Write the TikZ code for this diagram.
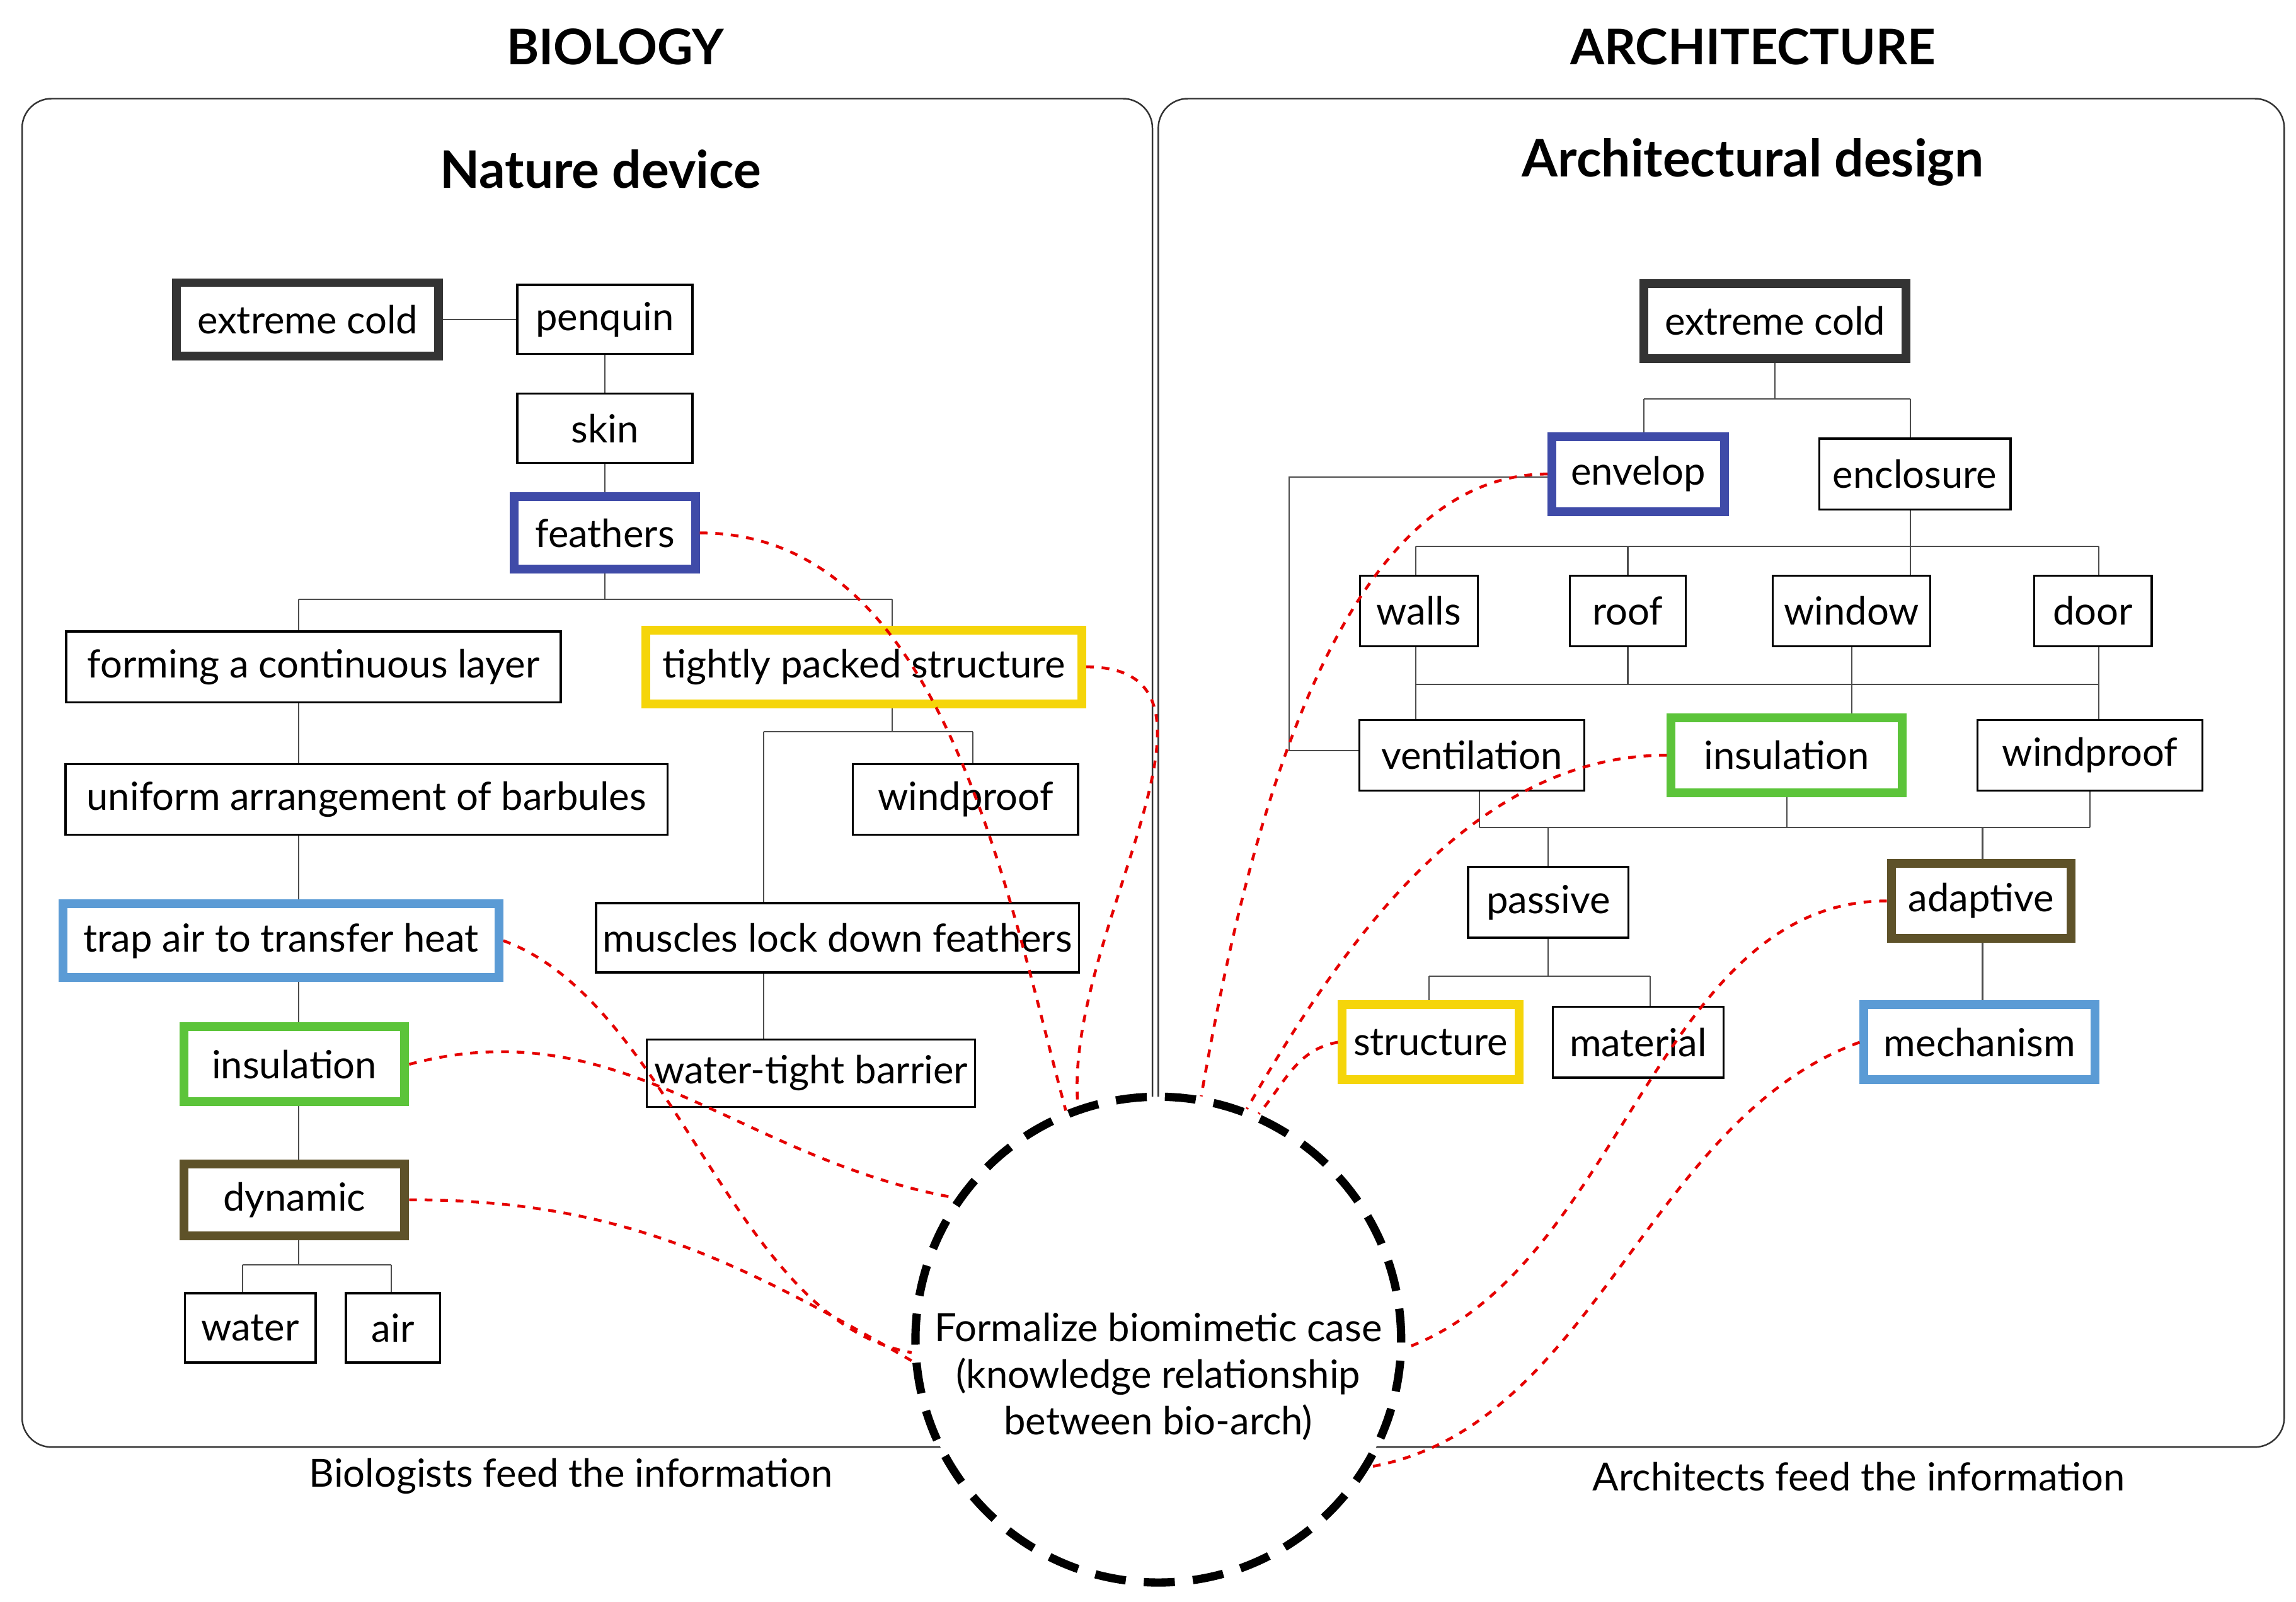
\documentclass[tikz,border=0pt]{standalone}
\usepackage{fontspec}
\setmainfont{Lato}
\begin{document}
\definecolor{cdark}{HTML}{333333}
\definecolor{cblue}{HTML}{3F4BA8}
\definecolor{cyel}{HTML}{F5D50A}
\definecolor{clb}{HTML}{5B9BD5}
\definecolor{cgr}{HTML}{5CC43A}
\definecolor{col}{HTML}{5E5229}
\begin{tikzpicture}[x=0.02cm,y=-0.02cm,
  box/.style={draw,fill=white,line width=0.8pt,inner sep=2pt,font=\fontsize{15}{18}\selectfont},
  thk/.style={line width=3.4pt,draw=#1},
  ln/.style={draw=black!70,line width=0.5pt},
  rl/.style={draw=red!90!black,dashed,line width=1.1pt},
  panel/.style={draw=black!80,line width=0.6pt,rounded corners=0.4cm},
  ttl/.style={font=\fontsize{19}{23}\selectfont\bfseries},
  sub/.style={font=\fontsize{20}{24}\selectfont\bfseries},
  lbl/.style={font=\fontsize{15}{18}\selectfont}]
\useasboundingbox (0,0) rectangle (1560,1088);
\newcommand\B[7]{\node[box,#6,minimum width=#4*0.02cm,minimum height=#5*0.02cm] (#1) at (#2,#3) {#7};}
% panels
\draw[panel] (15,67) rectangle (783,983);
\draw[panel] (787,67) rectangle (1552,983);
\node[ttl] (tb) at (418,32) {BIOLOGY};
\node[ttl] (ta) at (1191,32) {ARCHITECTURE};
\node[sub] (sb) at (408,115) {Nature device};
\node[sub] (sa) at (1191,110) {Architectural design};
\node[lbl] (lb) at (388,1003) {Biologists feed the information};
\node[lbl] (la) at (1263,1003) {Architects feed the information};
% connectors left
\draw[ln] (209,217) -- (411,217);
\draw[ln] (411,217) -- (411,362);
\draw[ln] (411,362) -- (411,407) (203,407) -- (606,407) (203,407) -- (203,815) (606,407) -- (606,497);
\draw[ln] (519,497) -- (661,497) (661,497) -- (661,543) (519,497) -- (519,729);
\draw[ln] (203,815) -- (203,859) (165,859) -- (266,859) (165,859) -- (165,902) (266,859) -- (266,902);
% connectors right
\draw[ln] (1206,218) -- (1206,271) (1117,271) -- (1298,271) (1117,271) -- (1117,322) (1298,271) -- (1298,371);
\draw[ln] (1113,324) -- (876,324) -- (876,510) -- (923,510);
\draw[ln] (962,371) -- (1426,371) (962,371) -- (962,513) (1106,371) -- (1106,465) (1298,371) -- (1298,415) (1426,371) -- (1426,513);
\draw[ln] (962,465) -- (1426,465) (1258,415) -- (1258,513);
\draw[ln] (1005,513) -- (1005,562) (1005,562) -- (1420,562) (1214,513) -- (1214,562) (1420,513) -- (1420,562);
\draw[ln] (1052,562) -- (1052,663) (971,663) -- (1121,663) (971,663) -- (971,708) (1121,663) -- (1121,708);
\draw[ln] (1347,562) -- (1347,708);
% left nodes
\B{lcold}{209}{217}{178}{50}{thk=cdark}{extreme cold}
\B{peng}{411}{217}{119}{47}{}{penquin}
\B{skin}{411}{291}{119}{47}{}{skin}
\B{feat}{411}{362}{123}{49}{thk=cblue}{feathers}
\B{form}{213}{453}{336}{48}{}{forming a continuous layer}
\B{tight}{587}{453}{296}{50}{thk=cyel}{tightly packed structure}
\B{unif}{249}{543}{409}{48}{}{uniform arrangement of barbules}
\B{lwind}{656}{543}{153}{48}{}{windproof}
\B{trap}{191}{639}{296}{50}{thk=clb}{trap air to transfer heat}
\B{musc}{569}{637}{328}{47}{}{muscles lock down feathers}
\B{lins}{200}{723}{150}{51}{thk=cgr}{insulation}
\B{wtb}{551}{729}{223}{46}{}{water-tight barrier}
\B{dyn}{200}{815}{150}{49}{thk=col}{dynamic}
\B{water}{170}{902}{89}{47}{}{water}
\B{air}{267}{902}{64}{47}{}{air}
% right nodes
\B{rcold}{1206}{218}{178}{51}{thk=cdark}{extreme cold}
\B{env}{1113}{322}{117}{51}{thk=cblue}{envelop}
\B{encl}{1301}{322}{130}{48}{}{enclosure}
\B{walls}{964}{415}{80}{48}{}{walls}
\B{roof}{1106}{415}{79}{48}{}{roof}
\B{wind}{1258}{415}{107}{48}{}{window}
\B{door}{1422}{415}{80}{48}{}{door}
\B{vent}{1000}{513}{153}{48}{}{ventilation}
\B{rins}{1214}{513}{157}{51}{thk=cgr}{insulation}
\B{rwind}{1420}{513}{153}{48}{}{windproof}
\B{pass}{1052}{613}{109}{48}{}{passive}
\B{adap}{1346}{612}{122}{51}{thk=col}{adaptive}
\B{struc}{972}{708}{120}{51}{thk=cyel}{structure}
\B{mat}{1113}{708}{116}{48}{}{material}
\B{mech}{1345}{708}{157}{51}{thk=clb}{mechanism}
% circle
\node[circle,draw,fill=white,line width=3.2pt,dash pattern=on 12pt off 7pt,minimum size=330*0.02cm,inner sep=0pt] (c) at (787,910) {};
\node[align=center,font=\fontsize{15}{18}\selectfont] (ct) at (787,935) {Formalize biomimetic case\\(knowledge relationship\\between bio-arch)};
% red links
\draw[rl] (feat.east) to[out=0,in=105,looseness=0.9] (c.112);
\draw[rl] (tight.east) to[out=0,in=95,looseness=1] (c.109);
\draw[rl] (trap.east) to[out=-20,in=170,looseness=0.8] (c.183);
\draw[rl] (lins.east) to[out=15,in=170,looseness=1] (c.145);
\draw[rl] (dyn.east) to[out=0,in=150,looseness=1] (c.185);
\draw[rl] (env.west) to[out=180,in=80,looseness=0.8] (c.80);
\draw[rl] (rins.west) to[out=180,in=60,looseness=0.9] (c.69);
\draw[rl] (struc.west) to[out=190,in=50,looseness=1] (c.66);
\draw[rl] (adap.west) to[out=180,in=20,looseness=0.9] (c.358);
\draw[rl] (mech.west) to[out=200,in=10,looseness=0.9] (c.329);
\end{tikzpicture}
\end{document}
